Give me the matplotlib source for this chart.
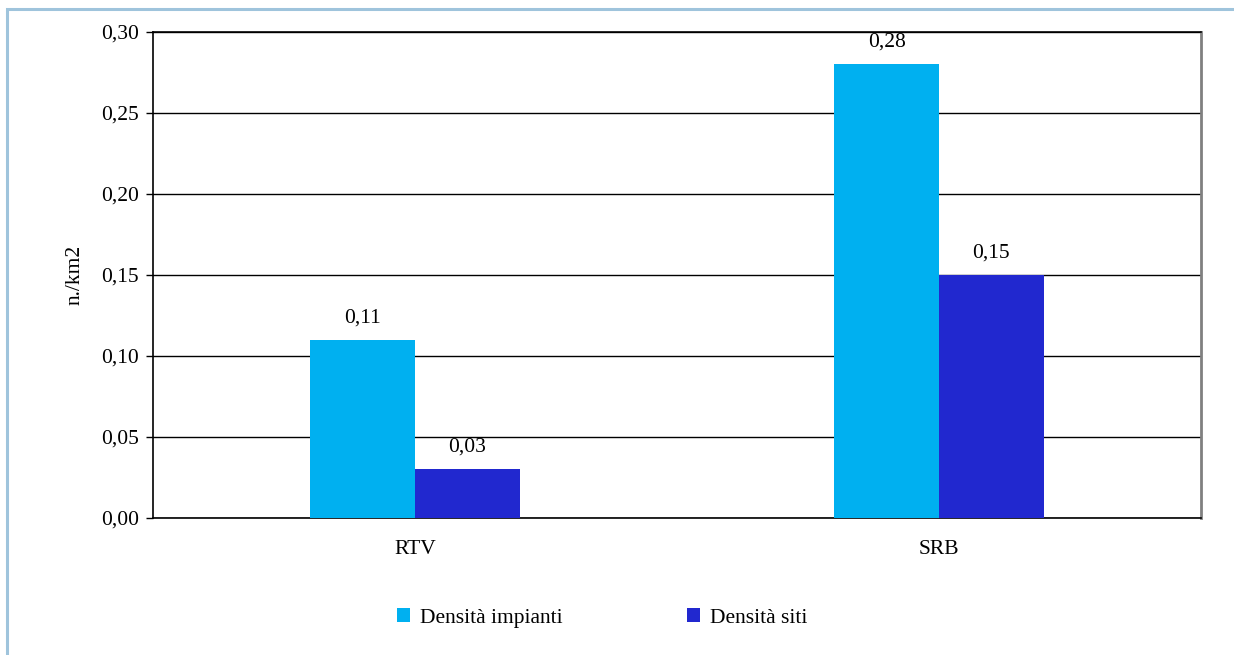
import numpy as np
import matplotlib
matplotlib.use("Agg")
import matplotlib.pyplot as plt
import matplotlib.patches as patches

# dati: densità per area
categorie = ["RTV", "SRB"]
serie = ["Densità impianti", "Densità siti"]
impianti = [0.11, 0.28]
siti = [0.03, 0.15]
colori = ["#00B0F0", "#2128CF"]

plt.rcParams["font.family"] = ["Liberation Serif", "DejaVu Serif"]
plt.rcParams["font.size"] = 15.5

fig = plt.figure(figsize=(12.34, 6.55), dpi=100)
ax = fig.add_axes([153/1234, 1 - 518/655, 1048/1234, 486/655])

x = np.arange(len(categorie))
w = 0.2
for i, (vals, nome) in enumerate(zip([impianti, siti], serie)):
    pos = x + (i - 0.5) * w
    ax.bar(pos, vals, width=w, color=colori[i], label=nome, zorder=3)
    for p, v in zip(pos, vals):
        ax.annotate(("%.2f" % v).replace(".", ","), (p, v), xytext=(0, 9),
                    textcoords="offset points", ha="center", va="bottom")

ax.set_xlim(-0.5, 1.5)
ax.set_ylim(0, 0.30)
yt = np.arange(0, 0.301, 0.05)
ax.set_yticks(yt)
ax.set_yticklabels([("%.2f" % t).replace(".", ",") for t in yt])
ax.set_xticks(x)
ax.set_xticklabels(categorie)
ax.tick_params(axis="x", length=0, pad=16)
ax.tick_params(axis="y", length=5, width=1, pad=5, direction="out")
ax.yaxis.grid(True, color="black", linewidth=1, zorder=1)
ax.set_axisbelow(True)
ax.set_ylabel("n./km2", labelpad=12)

for s in ["left", "bottom", "top"]:
    ax.spines[s].set_color("black")
    ax.spines[s].set_linewidth(1.2)
ax.spines["right"].set_color("#808080")
ax.spines["right"].set_linewidth(2)

fig.legend(loc="center", bbox_to_anchor=(602/1234, 1 - 618/655), ncol=2,
           frameon=False, handlelength=0.6, handleheight=0.6,
           handletextpad=0.45, columnspacing=5.8)

# cornice esterna
fig.add_artist(patches.Rectangle((7/1234, -0.1), 1.2, 1.1 - 9/655,
                                 transform=fig.transFigure, fill=False,
                                 edgecolor="#9FC4DC", linewidth=2.2))

fig.savefig("out.png", dpi=100)
